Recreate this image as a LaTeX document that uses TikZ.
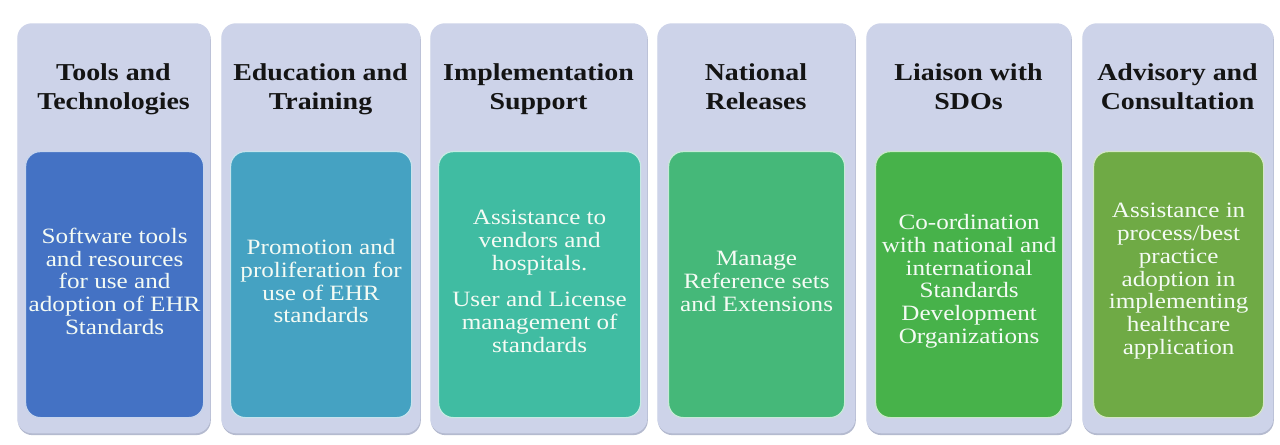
\documentclass[tikz,border=0pt]{standalone}
\usepackage{fontspec}
\setmainfont{Liberation Serif}[FakeStretch=1.15]
\usetikzlibrary{shadows}
\definecolor{panelfill}{HTML}{CDD3E9}
\definecolor{panelshade}{HTML}{B4BACF}
\definecolor{titlecol}{HTML}{141414}
\definecolor{bodycol}{HTML}{F4FBF4}
\definecolor{colA}{HTML}{4472C4}
\definecolor{colB}{HTML}{45A2C2}
\definecolor{colC}{HTML}{40BCA2}
\definecolor{colD}{HTML}{45B879}
\definecolor{colE}{HTML}{47B24A}
\definecolor{colF}{HTML}{6FAA45}
\tikzset{
  outerbox/.style={fill=panelfill, rounded corners=11pt, inner sep=0pt, anchor=north west,
    drop shadow={shadow xshift=0.4pt, shadow yshift=-1.4pt, fill=panelshade, opacity=1}},
  innerbox/.style={rounded corners=11pt, inner sep=0pt, anchor=north west, line width=0.9pt},
  titletext/.style={align=center, text=titlecol, inner sep=0pt, font=\bfseries\fontsize{18.2}{22}\selectfont},
  bodytext/.style={align=center, text=bodycol, inner sep=0pt, font=\fontsize{16.4}{17.1}\selectfont}
}
% #1 name, #2/#3 panel left/right, #4/#5 card left/right, #6 card colour, #7 heading, #8 card text
\newcommand\servicepanel[8]{%
  \node[outerbox, minimum width={(#3-#2)*0.75pt}, minimum height={(433-23)*0.75pt}] (#1o) at (#2,23) {};
  \node[innerbox, fill=#6, draw=#6!30!white, minimum width={(#5-#4)*0.75pt}, minimum height={(417-151)*0.75pt}] (#1i) at (#4,151) {};
  \node[titletext] (#1t) at ({(#2+#3)/2},89) {\strut#7\strut};
  \node[bodytext] (#1b) at ([yshift=2.5pt]#1i.center) {#8};
}
\begin{document}
\begin{tikzpicture}[x=0.75pt,y=-0.75pt]
\useasboundingbox[fill=white] (0,0) rectangle (1280,445);
\servicepanel{tools}{17}{210}{25}{203}{colA}{Tools and\\Technologies}
  {Software tools\\and resources\\for use and\\adoption of EHR\\Standards}
\servicepanel{edu}{221}{420}{230}{411}{colB}{Education and\\Training}
  {Promotion and\\proliferation for\\use of EHR\\standards}
\servicepanel{impl}{430}{647}{438}{640}{colC}{Implementation\\Support}
  {Assistance to\\vendors and\\hospitals.\\[10pt]User and License\\management of\\standards}
\servicepanel{nat}{657}{855}{668}{844}{colD}{National\\Releases}
  {Manage\\Reference sets\\and Extensions}
\servicepanel{sdo}{866}{1071}{875}{1062}{colE}{Liaison with\\SDOs}
  {Co-ordination\\with national and\\international\\Standards\\Development\\Organizations}
\servicepanel{adv}{1082}{1273}{1093}{1263}{colF}{Advisory and\\Consultation}
  {Assistance in\\process/best\\practice\\adoption in\\implementing\\healthcare\\application}
\end{tikzpicture}
\end{document}
